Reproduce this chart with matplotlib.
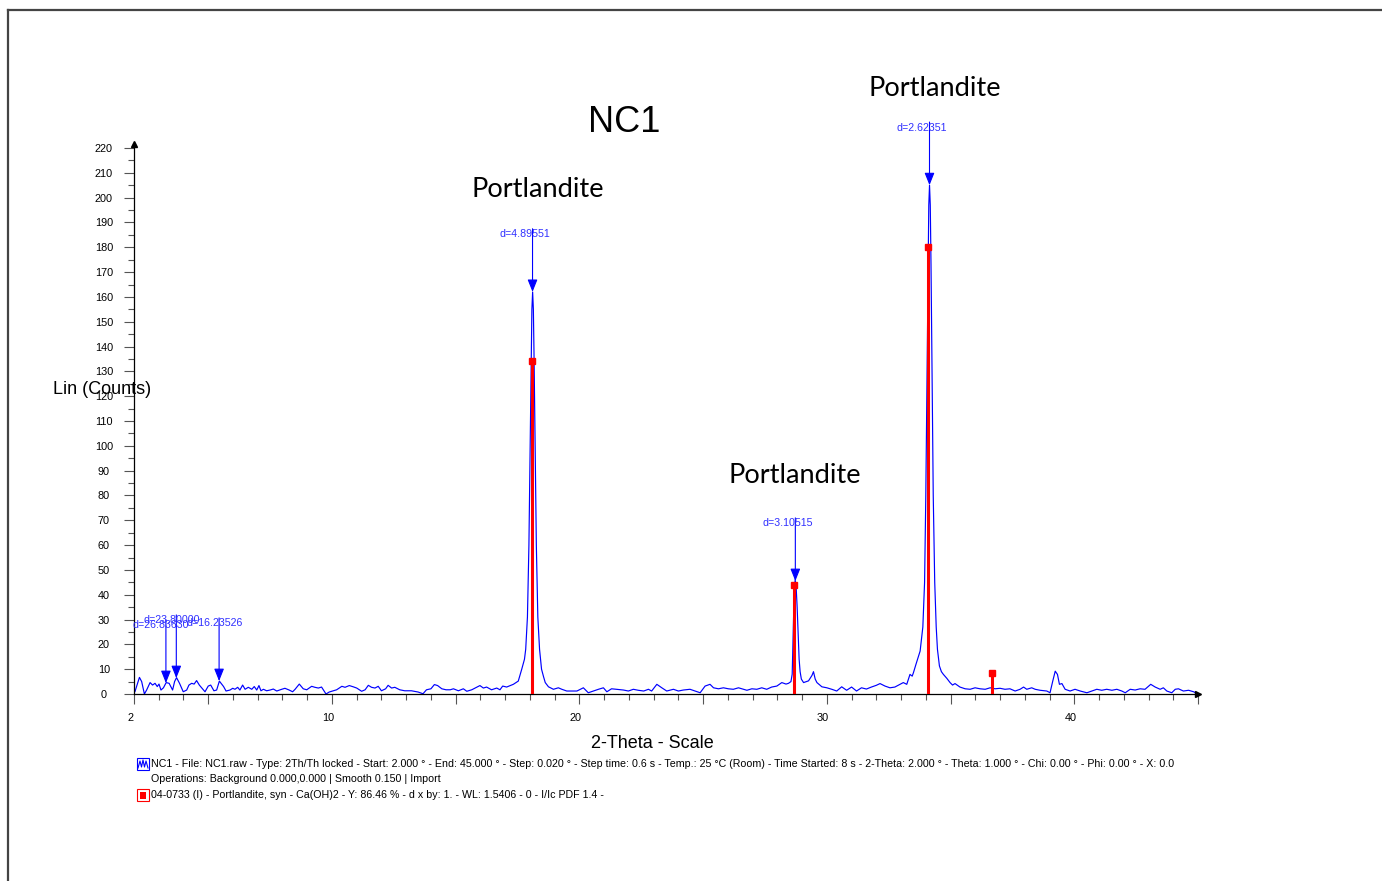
import numpy as np
import matplotlib
matplotlib.use("Agg")
import matplotlib.pyplot as plt
from matplotlib.ticker import FixedLocator, MultipleLocator, FuncFormatter
from matplotlib.transforms import ScaledTranslation
from matplotlib.patches import Rectangle
from matplotlib.lines import Line2D

plt.rcParams['font.family'] = ['Liberation Sans', 'DejaVu Sans']

# ---- measured scan NC1 (2-theta in degrees, intensity in counts) ----
two_theta = [
    2.04, 2.22, 2.31, 2.42, 2.51, 2.65, 2.75, 2.85, 2.94, 3.01, 3.09, 3.19, 3.30, 3.42,
    3.56, 3.64, 3.72, 3.84, 3.99, 4.13, 4.22, 4.33, 4.43, 4.53, 4.64, 4.75, 4.87, 5.00,
    5.10, 5.23, 5.34, 5.45, 5.62, 5.72, 5.88, 5.99, 6.08, 6.19, 6.28, 6.39, 6.49, 6.62,
    6.76, 6.86, 6.96, 7.05, 7.13, 7.23, 7.36, 7.50, 7.63, 7.77, 7.97, 8.10, 8.27, 8.41,
    8.51, 8.68, 8.84, 8.98, 9.18, 9.31, 9.45, 9.58, 9.76, 9.89, 10.06, 10.19, 10.40,
    10.53, 10.70, 10.86, 11.00, 11.20, 11.34, 11.47, 11.60, 11.74, 11.87, 12.00, 12.17,
    12.27, 12.41, 12.54, 12.74, 12.94, 13.21, 13.48, 13.68, 13.82, 14.00, 14.14, 14.27,
    14.44, 14.61, 14.78, 14.91, 15.11, 15.31, 15.45, 15.65, 15.98, 16.12, 16.25, 16.45,
    16.66, 16.79, 16.90, 17.06, 17.33, 17.53,
    17.67, 17.78, 17.83, 17.90, 17.96, 18.01, 18.05, 18.08, 18.11, 18.14, 18.17, 18.21,
    18.26, 18.32, 18.39, 18.47, 18.55, 18.62, 18.75,
    18.95, 19.15, 19.29, 19.49, 19.90, 20.16, 20.36, 20.56, 20.77, 20.97, 21.11, 21.30,
    21.51, 21.78, 21.98, 22.18, 22.38, 22.60, 22.79, 22.92, 23.13, 23.33, 23.53, 23.80,
    24.00, 24.20, 24.47, 24.67, 24.88, 25.08, 25.28, 25.42, 25.62, 25.82, 26.02, 26.22,
    26.43, 26.63, 26.77, 26.97, 27.17, 27.37, 27.57, 27.77, 27.98, 28.18, 28.35,
    28.45, 28.55, 28.60, 28.64, 28.68, 28.72, 28.76, 28.80, 28.84, 28.88, 28.92, 28.97,
    29.06, 29.26, 29.40, 29.46, 29.53, 29.60, 29.80,
    30.00, 30.20, 30.40, 30.60, 30.80, 31.00, 31.20, 31.40, 31.60, 31.80, 32.00, 32.15,
    32.35, 32.55, 32.75, 32.96, 33.09, 33.23,
    33.36, 33.45, 33.50, 33.60, 33.77, 33.88, 33.95, 34.00, 34.05, 34.09, 34.12, 34.15,
    34.18, 34.21, 34.25, 34.30, 34.36, 34.42, 34.47, 34.55, 34.63, 34.71, 34.85, 34.98,
    35.08, 35.18, 35.38, 35.59, 35.79, 35.99, 36.19, 36.40, 36.60, 36.80, 37.00, 37.20,
    37.40, 37.61, 37.81, 37.95, 38.08, 38.28, 38.42, 38.62, 38.89, 39.02, 39.13, 39.23,
    39.32, 39.40, 39.50, 39.63, 39.83, 40.03, 40.24, 40.51, 40.71, 40.91, 41.11, 41.31,
    41.52, 41.72, 41.92, 42.06, 42.26, 42.46, 42.66, 42.86, 43.09, 43.27, 43.47, 43.60,
    43.74, 43.94, 44.08, 44.21, 44.41, 44.62, 44.82, 44.98,
]
counts = [
    1.0, 6.7, 5.0, 0.0, 1.6, 4.6, 3.6, 4.3, 3.0, 4.0, 1.6, 2.5, 4.6, 4.3,
    1.6, 5.0, 6.6, 4.3, 0.9, 1.6, 3.6, 4.3, 4.0, 5.4, 3.6, 2.3, 0.9, 3.2,
    3.6, 1.3, 1.6, 5.2, 3.0, 1.2, 1.6, 2.3, 1.9, 2.7, 1.6, 3.6, 1.9, 2.7,
    1.9, 3.0, 1.6, 3.4, 1.3, 1.9, 1.3, 1.6, 2.0, 1.2, 1.9, 2.3, 1.6, 0.9,
    1.9, 4.0, 2.1, 1.7, 3.1, 2.7, 2.4, 2.8, 0.0, 0.8, 1.3, 1.7, 3.1,
    2.7, 3.4, 2.9, 2.4, 1.1, 1.7, 3.5, 2.7, 2.4, 3.1, 1.3, 2.1,
    3.5, 2.4, 2.7, 1.7, 1.3, 1.3, 0.8, 0.1, 1.7, 2.1, 3.8, 3.4,
    2.1, 1.7, 1.7, 2.1, 1.3, 2.1, 1.1, 1.7, 3.4, 2.4, 2.8, 1.7,
    2.4, 1.7, 3.2, 2.8, 3.9, 5.2,
    10.0, 14.0, 18.0, 31.0, 60.0, 100.0, 134.0, 155.0, 162.0, 155.0, 134.0, 100.0,
    60.0, 31.0, 18.0, 10.0, 7.0, 4.6, 2.9,
    1.9, 2.5, 1.9, 1.2, 1.2, 2.5, 0.5, 1.2, 1.9, 2.5, 0.9, 2.1,
    1.9, 1.6, 1.2, 1.9, 1.5, 1.2, 1.9, 1.2, 3.9, 2.5, 1.2, 1.9,
    1.2, 1.6, 1.9, 1.2, 0.5, 3.2, 3.9, 2.5, 2.1, 2.5, 2.1, 1.9,
    2.5, 1.9, 1.5, 2.1, 1.9, 2.5, 1.9, 2.8, 3.2, 4.6, 4.0,
    4.3, 5.0, 8.0, 25.0, 41.0, 46.0, 43.0, 35.0, 25.0, 14.0, 9.0, 6.0,
    4.6, 5.3, 7.5, 9.0, 6.0, 4.6, 2.9,
    2.5, 1.9, 1.2, 2.9, 1.5, 2.8, 1.2, 2.5, 2.0, 2.8, 3.5, 4.2,
    3.2, 2.5, 2.8, 3.9, 4.6, 3.9,
    7.9, 7.2, 8.6, 11.9, 17.3, 27.0, 45.0, 80.0, 130.0, 173.0, 197.0, 205.0,
    197.0, 173.0, 130.0, 80.0, 45.0, 27.0, 18.0, 11.3, 9.0, 7.9, 6.3, 4.6,
    3.6, 4.2, 2.8, 2.1, 1.9, 2.5, 2.1, 1.9, 2.5, 2.1, 2.3, 1.9,
    2.1, 1.2, 1.9, 2.8, 1.9, 2.5, 1.9, 1.5, 1.2, 0.5, 5.2, 9.2,
    7.9, 3.9, 4.2, 1.9, 1.2, 1.9, 1.2, 0.5, 1.2, 1.9, 1.5, 1.9,
    1.5, 1.9, 1.2, 0.5, 1.9, 1.6, 2.1, 1.9, 3.9, 2.8, 1.9, 2.5,
    1.2, 0.5, 1.9, 2.1, 1.2, 1.5, 0.9, 0.1,
]

# ---- reference pattern 04-0733 Portlandite (stick positions / heights) ----
ref_two_theta = [18.09, 28.66, 34.09, 36.68]
ref_counts = [134.0, 44.0, 180.0, 8.4]

# ---- marked peaks (d-spacing in Angstrom, intensity at the tip) ----
wavelength = 1.5406
peak_d = [26.83630, 23.80000, 16.23526, 4.89551, 3.10515, 2.62351]
peak_counts = [4.4, 6.4, 5.2, 162.0, 45.5, 205.0]
peak_two_theta = np.degrees(2 * np.arcsin(wavelength / (2 * np.array(peak_d))))

phase_name = "Portlandite"
x_tick_labels = {2: "2", 10: "10", 20: "20", 30: "30", 40: "40"}

legend_lines = [
    "NC1 - File: NC1.raw - Type: 2Th/Th locked - Start: 2.000 \u00b0 - End: 45.000 \u00b0 - "
    "Step: 0.020 \u00b0 - Step time: 0.6 s - Temp.: 25 \u00b0C (Room) - Time Started: 8 s - "
    "2-Theta: 2.000 \u00b0 - Theta: 1.000 \u00b0 - Chi: 0.00 \u00b0 - Phi: 0.00 \u00b0 - X: 0.0",
    "Operations: Background 0.000,0.000 | Smooth 0.150 | Import",
    "04-0733 (I) - Portlandite, syn - Ca(OH)2 - Y: 86.46 % - d x by: 1. - WL: 1.5406 - 0 - I/Ic PDF 1.4 -",
]

W, H = 1382, 881
DPI = 100
fig = plt.figure(figsize=(W / DPI, H / DPI), dpi=DPI)

# background layer in pixel units for the page frame and legend symbols
bg = fig.add_axes([0, 0, 1, 1], zorder=0)
bg.set_xlim(0, W)
bg.set_ylim(H, 0)
bg.axis("off")
bg.add_line(Line2D([8, W], [10, 10], color="#444444", lw=1.6))
bg.add_line(Line2D([8, 8], [10, H], color="#444444", lw=1.6))
bg.add_patch(Rectangle((137, 758), 12, 12, fill=False, edgecolor="#0000ff", lw=0.8))
bg.add_line(Line2D([138, 140, 141.5, 143, 144.5, 146, 148],
                   [768, 761, 767, 760, 767, 761, 768], color="#0000ff", lw=0.8))
bg.add_patch(Rectangle((137, 789), 12, 12, fill=False, edgecolor="#ff0000", lw=0.8))
bg.add_patch(Rectangle((140, 792), 6.5, 6.5, facecolor="#ff0000", edgecolor="none"))

# main plot area
ymax = 221.5
ax_left, ax_right, ax_bottom = 134, 1198, 694
px_per_count = (694 - 148) / 220.0
ax_top = ax_bottom - ymax * px_per_count
ax = fig.add_axes([ax_left / W, (H - ax_bottom) / H,
                   (ax_right - ax_left) / W, (ax_bottom - ax_top) / H], zorder=1)
ax.patch.set_alpha(0)
ax.set_xlim(2, 45)
ax.set_ylim(0, ymax)

ax.plot(two_theta, counts, color="#0000ff", lw=0.85, zorder=2)
ax.vlines(ref_two_theta, 0, ref_counts, color="#ff0000", lw=2.2, zorder=3)
ax.plot(ref_two_theta, ref_counts, "s", color="#ff0000", ms=4.5, zorder=3)

for tt, d, c in zip(peak_two_theta, peak_d, peak_counts):
    ax.annotate("", xy=(tt, c), xytext=(0, 45.5), textcoords="offset points",
                arrowprops=dict(arrowstyle="-|>,head_length=0.75,head_width=0.3",
                                color="#0000ff", lw=0.8, mutation_scale=10,
                                shrinkA=0, shrinkB=0), zorder=4)
    ax.annotate(f"d={d:.5f}", xy=(tt, c), xytext=(-23.8, 41.5),
                textcoords="offset points", ha="left", va="center",
                fontsize=7.7, color="#3030ff", zorder=4)

# phase labels
for tx, ty in [(18.33, 203.2), (28.72, 87.9), (34.38, 243.9)]:
    ax.text(tx, ty, phase_name, ha="center", va="center", fontsize=19.6,
            family=["Lato", "DejaVu Sans"], clip_on=False)

for side in ("top", "right"):
    ax.spines[side].set_visible(False)
for side in ("left", "bottom"):
    ax.spines[side].set_color("black")
    ax.spines[side].set_linewidth(0.9)
ax.plot([2], [ymax], marker="^", ms=4, color="black", clip_on=False, zorder=5)
ax.plot([45], [0], marker=">", ms=4, color="black", clip_on=False, zorder=5)

ax.xaxis.set_major_locator(FixedLocator([2, 5, 10, 15, 20, 25, 30, 35, 40, 45]))
ax.xaxis.set_minor_locator(MultipleLocator(1))
ax.xaxis.set_major_formatter(FuncFormatter(lambda v, p: x_tick_labels.get(int(round(v)), "")))
ax.yaxis.set_major_locator(MultipleLocator(10))
ax.yaxis.set_minor_locator(MultipleLocator(5))
ax.tick_params(which="major", direction="out", length=7.2, width=0.8, color="#555555",
               labelsize=7.8)
ax.tick_params(which="minor", direction="out", length=4.5, width=0.8, color="#555555")
ax.tick_params(axis="x", which="major", pad=6.5)
ax.tick_params(axis="y", which="major", pad=14.5)
for lab in ax.get_yticklabels():
    lab.set_horizontalalignment("center")
shift = ScaledTranslation(-4 / DPI, 0, fig.dpi_scale_trans)
for lab in ax.get_xticklabels():
    lab.set_transform(lab.get_transform() + shift)

# titles and axis captions
fig.text(624 / W, 1 - 123 / H, "NC1", ha="center", va="center", fontsize=26)
fig.text(102 / W, 1 - 390 / H, "Lin (Counts)", ha="center", va="center", fontsize=13, zorder=6)
fig.text(652 / W, 1 - 744 / H, "2-Theta - Scale", ha="center", va="center", fontsize=13)

for text, y in zip(legend_lines, [764, 779, 795]):
    fig.text(151 / W, 1 - y / H, text, ha="left", va="center", fontsize=7.7)

fig.savefig("out.png", dpi=DPI)
